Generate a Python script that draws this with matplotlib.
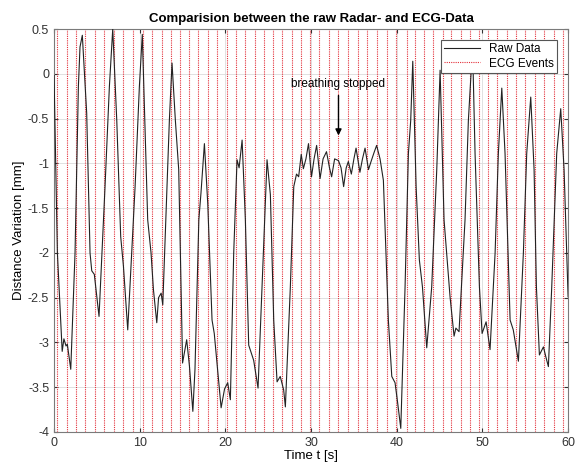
import numpy as np
import matplotlib
matplotlib.use("Agg")
import matplotlib.pyplot as plt

plt.rcParams["font.family"] = ["Liberation Sans", "DejaVu Sans"]

# ECG event times [s]
ecg_times = [0.39, 1.48, 2.57, 3.65, 4.75, 5.87, 6.97, 8.05, 9.26, 10.42,
             11.47, 12.57, 13.62, 14.71, 15.79, 16.84, 17.94, 19.06, 20.16, 21.24,
             22.33, 23.46, 24.55, 25.60, 26.65, 27.75, 28.80, 29.88, 30.97, 32.10,
             33.19, 34.28, 35.45, 36.57, 37.70, 38.84, 39.92, 41.17, 42.17, 43.22,
             44.27, 45.37, 46.34, 47.47, 48.56, 49.64, 50.70, 51.75, 52.84, 53.93,
             55.01, 56.15, 57.23, 58.33, 59.45]

# raw radar signal
raw_t = [0.0, 0.39, 0.95, 1.15, 1.4, 1.55, 1.95, 2.45, 2.84, 3.03, 3.3,
         3.81, 4.2, 4.4, 4.7, 5.25, 5.95, 6.46, 6.85, 7.32, 7.78, 8.1, 8.6,
         9.46, 9.96, 10.3, 10.93, 11.32, 11.6, 11.99, 12.2, 12.5, 12.69,
         13.46, 13.77, 14.16, 14.55, 15.0, 15.48, 15.8, 16.2, 16.45, 16.9,
         17.15, 17.55, 17.94, 18.44, 18.7, 19.5, 19.9, 20.27, 20.58, 20.97,
         21.36, 21.6, 21.95, 22.33, 22.72, 23.3, 23.81, 24.28, 24.86, 25.25,
         25.64, 26.03, 26.4, 26.8, 27.0, 27.58, 27.98, 28.3, 28.55, 28.85,
         29.1, 29.4, 29.7, 30.05, 30.35, 30.65, 31.05, 31.4, 31.8, 32.15,
         32.4, 32.75, 33.2, 33.5, 33.8, 34.1, 34.35, 34.7, 35.0, 35.25,
         35.7, 36.0, 36.3, 36.7, 37.0, 37.35, 37.65, 38.05, 38.3, 38.44,
         39.02, 39.42, 39.8, 40.1, 40.47, 40.97, 41.36, 41.63, 41.87, 42.26,
         42.64, 43.0, 43.5, 44.08, 44.67, 45.06, 45.52, 46.22, 46.69, 46.9,
         47.27, 47.97, 48.36, 48.85, 49.14, 49.65, 49.96, 50.43, 50.89,
         51.48, 51.86, 52.26, 52.64, 53.23, 53.6, 54.2, 54.78, 55.17, 55.64,
         56.03, 56.3, 56.65, 57.12, 57.4, 57.7, 58.09, 58.67, 59.14, 59.53,
         60.0]
raw_y = [-0.02, -2.0, -3.1, -2.96, -3.04, -3.02, -3.3, -2.0, -0.14, 0.3, 0.43,
         -0.44, -2.0, -2.2, -2.24, -2.71, -1.26, -0.14, 0.5, -0.52, -1.82, -2.15, -2.86,
         -1.26, -0.14, 0.44, -1.63, -2.0, -2.41, -2.78, -2.5, -2.45, -2.58,
         -0.52, 0.12, -0.52, -1.07, -3.23, -2.97, -3.26, -3.77, -3.3, -1.63,
         -1.33, -0.78, -1.45, -2.75, -2.9, -3.73, -3.52, -3.45, -3.64, -2.0,
         -0.96, -1.05, -0.74, -1.63, -3.03, -3.2, -3.51, -2.38, -0.96, -1.35,
         -2.75, -3.44, -3.38, -3.53, -3.72, -2.38, -1.26, -1.12, -1.15, -0.90,
         -1.06, -0.95, -0.78, -1.15, -0.95, -0.80, -1.17, -0.95, -0.87, -1.05,
         -1.15, -0.95, -0.97, -1.05, -1.26, -1.05, -0.98, -1.12, -0.95, -0.83,
         -1.10, -0.95, -0.83, -1.07, -0.98, -0.88, -0.80, -0.95, -1.10, -1.19,
         -2.75, -3.38, -3.45, -3.67, -3.96, -2.38, -0.89, -0.52, 0.14, -1.26,
         -2.08, -2.38, -3.06, -2.38, -1.07, 0.04, -1.63, -2.49, -2.93, -2.84,
         -2.88, -1.63, -0.52, 0.3, -0.89, -2.38, -2.9, -2.77, -3.08,
         -2.0, -0.89, -0.16, -0.89, -2.75, -2.86, -3.21, -2.0, -0.89, -0.26,
         -1.07, -2.38, -3.14, -3.05, -3.16, -3.27, -2.38, -0.89, -0.39, -1.07,
         -2.49]

fig = plt.figure(figsize=(5.75, 4.68), dpi=100)
ax = fig.add_axes([0.094, 0.077, 0.894, 0.861])

for i, t in enumerate(ecg_times):
    ax.axvline(t, color="#e3303a", linestyle=(0, (1, 1)), linewidth=0.8,
               label="ECG Events" if i == 0 else None, zorder=2)
ax.plot(raw_t, raw_y, color="#222222", linewidth=0.8, label="Raw Data", zorder=3)

ax.set_xlim(0, 60)
ax.set_ylim(-4, 0.5)
ax.set_xticks(np.arange(0, 61, 10))
ax.set_yticks(np.arange(-4, 0.51, 0.5))
ax.set_yticklabels(["-4", "-3.5", "-3", "-2.5", "-2", "-1.5", "-1", "-0.5", "0", "0.5"])
ax.grid(True, color="#dcdcdc", linewidth=0.6, zorder=0)
ax.set_axisbelow(True)
ax.tick_params(direction="in", length=3, labelsize=9, colors="#333333", top=True, right=True)
for s in ax.spines.values():
    s.set_color("#7a7a7a")
    s.set_linewidth(0.8)

ax.set_title("Comparision between the raw Radar- and ECG-Data", fontsize=9.5,
             fontweight="bold", pad=5)
ax.set_xlabel("Time t [s]", fontsize=9.5, labelpad=1)
ax.set_ylabel("Distance Variation [mm]", fontsize=9.5, labelpad=2)

ax.annotate("breathing stopped", xy=(33.2, -0.72), xytext=(33.2, -0.18),
            ha="center", va="bottom", fontsize=8.5,
            arrowprops=dict(arrowstyle="-|>", color="black", lw=1.0, mutation_scale=9))

h, l = ax.get_legend_handles_labels()
order = [l.index("Raw Data"), l.index("ECG Events")]
leg = ax.legend([h[i] for i in order], [l[i] for i in order], loc="upper right",
                fontsize=8.5, fancybox=False, framealpha=1, edgecolor="#555555",
                borderaxespad=0.9, handlelength=3.0, borderpad=0.3, labelspacing=0.2)
leg.get_frame().set_linewidth(0.8)

fig.savefig("out.png", dpi=100)
